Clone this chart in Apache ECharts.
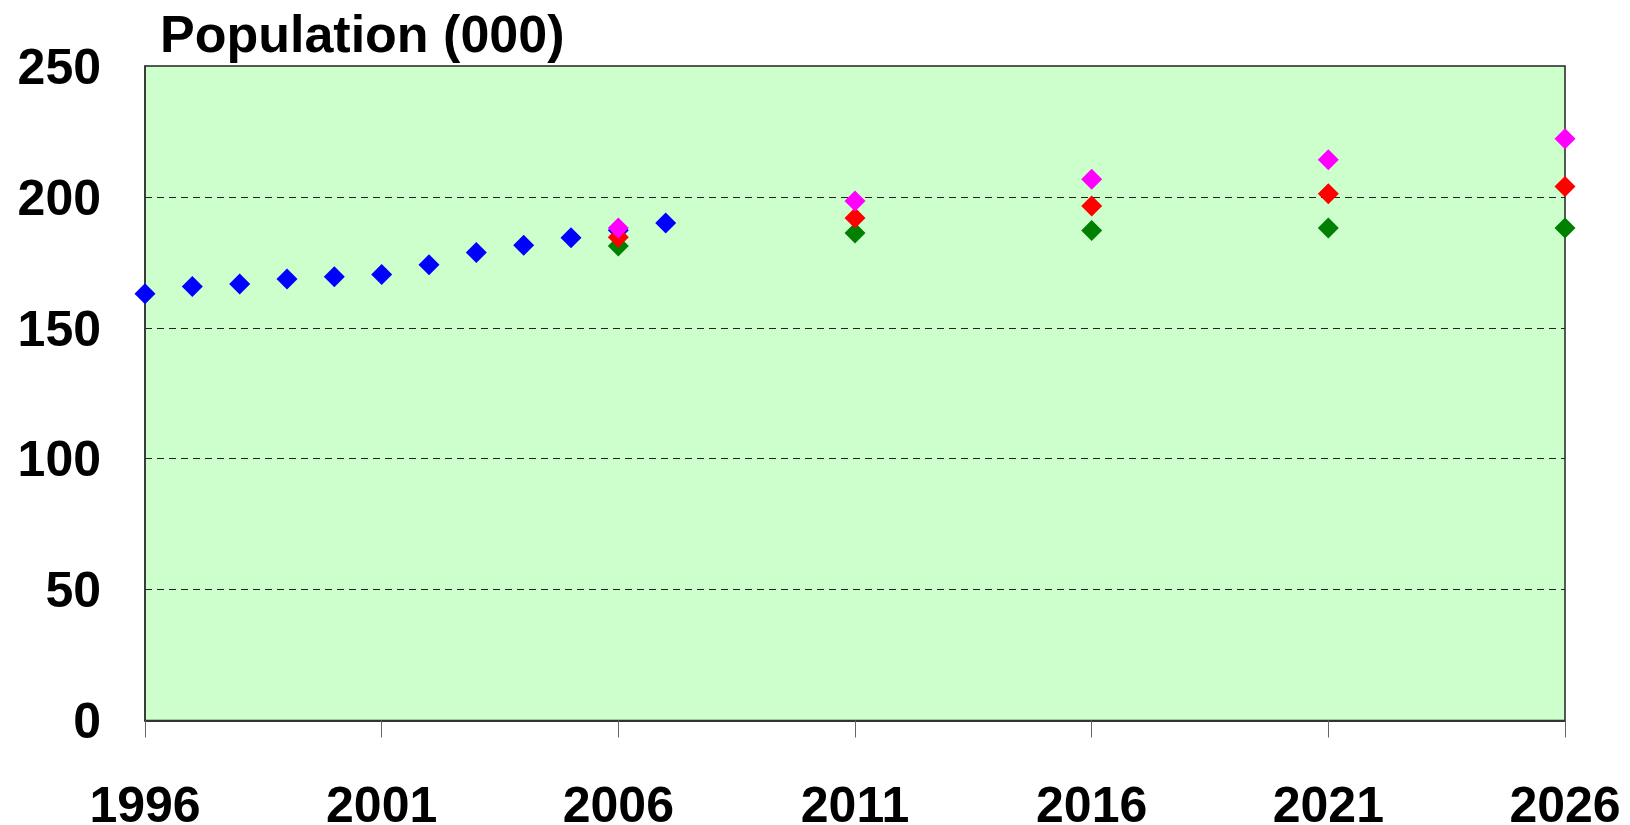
<!DOCTYPE html>
<html>
<head>
<meta charset="utf-8">
<script src="https://cdn.jsdelivr.net/npm/echarts@6/dist/echarts.min.js"></script>
<style>
  html, body { margin: 0; padding: 0; background: #ffffff; }
  #chart { width: 1630px; height: 825px; }
</style>
</head>
<body>
<div id="chart"></div>
<script>
// Category labels (years along the x axis)
const years = ['1996','1997','1998','1999','2000','2001','2002','2003','2004','2005','2006',
  '2007','2008','2009','2010','2011','2012','2013','2014','2015','2016',
  '2017','2018','2019','2020','2021','2022','2023','2024','2025','2026'];

// Actual estimates (blue)
const actualYears  = ['1996','1997','1998','1999','2000','2001','2002','2003','2004','2005','2006','2007'];
const actualValues = [163.0, 165.8, 166.7, 168.6, 169.5, 170.4, 174.1, 178.8, 181.5, 184.4, 187.3, 190.0];

// Projections
const projYears  = ['2006','2011','2016','2021','2026'];
const lowValues  = [181.2, 186.2, 187.2, 188.1, 188.1];   // green
const midValues  = [184.6, 191.9, 196.5, 201.2, 204.0];   // red
const highValues = [188.1, 198.4, 206.7, 214.2, 222.2];   // magenta

const yTicks = [0, 50, 100, 150, 200, 250];

const pair = (xs, vs) => xs.map((x, i) => [x, vs[i]]);

const chart = echarts.init(document.getElementById('chart'), null, { renderer: 'canvas' });

const font = 'Liberation Sans, Arial, sans-serif';

function scatter(name, data, color) {
  return {
    name: name,
    type: 'scatter',
    data: data,
    symbol: 'diamond',
    symbolSize: 21,
    clip: false,
    itemStyle: { color: color, opacity: 1 },
    emphasis: { disabled: true }
  };
}

chart.setOption({
  animation: false,
  title: {
    text: 'Population (000)',
    left: 155,
    top: 7,
    textStyle: { fontFamily: font, fontWeight: 'bold', fontSize: 52, color: '#000' }
  },
  grid: {
    left: 145, right: 65, top: 66, bottom: 104.5,
    show: true,
    backgroundColor: '#CCFFCC',
    borderColor: '#222',
    borderWidth: 1.5,
    containLabel: false,
    outerBoundsMode: 'none'
  },
  xAxis: {
    type: 'category',
    data: years,
    boundaryGap: false,
    axisLine: { show: true, lineStyle: { color: '#333', width: 2 } },
    axisTick: { show: true, interval: 4, length: 17, lineStyle: { color: '#666', width: 1 } },
    axisLabel: {
      interval: 4,
      margin: 63,
      fontFamily: font, fontWeight: 'bold', fontSize: 50, color: '#000'
    },
    splitLine: { show: false }
  },
  yAxis: {
    type: 'value',
    min: yTicks[0],
    max: yTicks[yTicks.length - 1],
    interval: 50,
    axisLine: { show: true, lineStyle: { color: '#333', width: 1.5 } },
    axisTick: { show: false },
    axisLabel: {
      margin: 44,
      verticalAlign: 'top',
      lineHeight: 8,
      fontFamily: font, fontWeight: 'bold', fontSize: 50, color: '#000'
    },
    splitLine: {
      show: true,
      showMinLine: false,
      showMaxLine: false,
      lineStyle: { color: '#222', type: [7, 5], width: 1 }
    }
  },
  series: [
    scatter('Actual', pair(actualYears, actualValues), '#0000FF'),
    scatter('Low', pair(projYears, lowValues), '#008000'),
    scatter('Mid', pair(projYears, midValues), '#FF0000'),
    scatter('High', pair(projYears, highValues), '#FF00FF')
  ]
});
</script>
</body>
</html>
